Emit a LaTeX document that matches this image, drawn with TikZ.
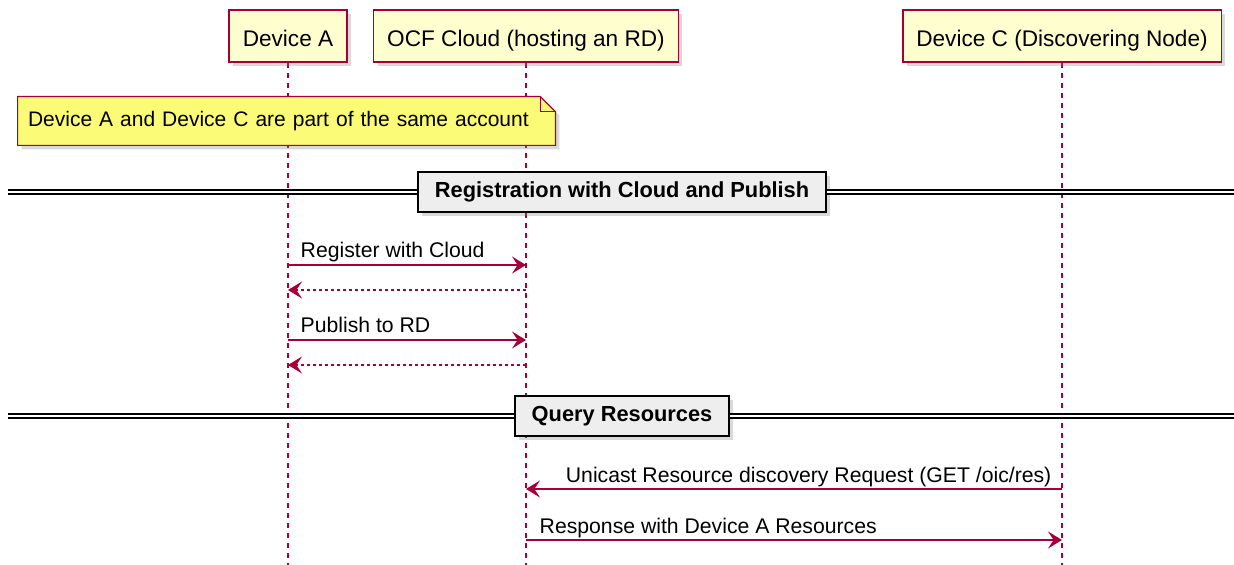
\documentclass[tikz,border=0pt]{standalone}
\usepackage{fontspec}
\setmainfont{Liberation Sans}
\usetikzlibrary{arrows.meta, positioning, shadows, backgrounds}

\definecolor{umlred}{HTML}{A80036}
\definecolor{partfill}{HTML}{FEFECE}
\definecolor{notefill}{HTML}{FBFB77}
\definecolor{sepfill}{HTML}{EEEEEE}

\begin{document}
\begin{tikzpicture}[x = 0.5pt, y = -0.5pt,
		participant/.style = {draw=umlred, line width=0.8pt, fill=partfill, minimum height=26pt, inner xsep=6.8pt,
			text height=1.3em, text depth=0.22em,
			font=\fontsize{11.3}{13}\selectfont, drop shadow={shadow xshift=2pt, shadow yshift=-2pt, opacity=0.3}},
		lifeline/.style = {umlred, line width=0.7pt, dash pattern=on 2.5pt off 2.5pt},
		notetext/.style = {minimum height=24pt, text width=258.5pt, inner xsep=5pt, align=left,
			font=\fontsize{10.5}{12}\selectfont},
		notebox/.style = {draw=umlred, line width=0.6pt, fill=notefill, line join=miter},
		divider/.style = {draw=black, line width=1pt, fill=sepfill, minimum height=20pt, inner xsep=8.5pt,
			font=\bfseries\fontsize{10.9}{12}\selectfont, drop shadow={shadow xshift=2pt, shadow yshift=-2pt, opacity=0.3}},
		sepline/.style = {draw=black, double=white, double distance=1.4pt, line width=0.6pt},
		msg/.style = {umlred, line width=0.7pt, -{Stealth[length=7pt, width=8.5pt, inset=2.8pt]}},
		reply/.style = {msg, dash pattern=on 1.5pt off 1.5pt},
		msglabel/.style = {text=black, inner sep=0pt, font=\fontsize{10.6}{12}\selectfont}]

	\useasboundingbox (0,0) rectangle (1234,565);

	% participants
	\node[participant] (devA) at (288,36) {Device A};
	\node[participant] (cloud) at (526,36) {OCF Cloud (hosting an RD)};
	\node[participant] (devC) at (1062,36) {Device C (Discovering Node)};

	\node[notetext] (note) at (286.5,121) {Device A and Device C are part of the same account};

	\begin{pgfonlayer}{background}
		\foreach \p in {devA, cloud, devC}
			\draw[lifeline] (\p.south) -- (\p.south |- 0,565);
		% note with folded corner
		\draw[notebox, drop shadow={shadow xshift=2pt, shadow yshift=-2pt, opacity=0.3}]
			(note.north west) -- ([xshift=-7.5pt]note.north east) -- ([yshift=-7.5pt]note.north east)
			-- (note.south east) -- (note.south west) -- cycle;
		\draw[notebox, fill=none] ([xshift=-7.5pt]note.north east) |- ([yshift=-7.5pt]note.north east);
	\end{pgfonlayer}

	% separators
	\node[divider] (regsep) at (622,192) {Registration with Cloud and Publish};
	\node[divider] (querysep) at (622,416) {Query Resources};
	\coordinate (regL) at (8,192);
	\coordinate (regR) at (1234,192);
	\coordinate (queryL) at (8,416);
	\coordinate (queryR) at (1234,416);
	\draw[sepline] (regL) -- (regsep.west);
	\draw[sepline] (regsep.east) -- (regR);
	\draw[sepline] (queryL) -- (querysep.west);
	\draw[sepline] (querysep.east) -- (queryR);

	% messages
	\draw[msg] (devA |- 0,265) -- node[msglabel, pos=0, anchor=base west, shift={(6pt,3.5pt)}] {Register with Cloud} (cloud |- 0,265);
	\draw[reply] (cloud |- 0,290) -- (devA |- 0,290);
	\draw[msg] (devA |- 0,340) -- node[msglabel, pos=0, anchor=base west, shift={(6pt,3.5pt)}] {Publish to RD} (cloud |- 0,340);
	\draw[reply] (cloud |- 0,365) -- (devA |- 0,365);
	\draw[msg] (devC |- 0,489) -- node[msglabel, pos=0, anchor=base east, shift={(-5pt,3.5pt)}] {Unicast Resource discovery Request (GET /oic/res)} (cloud |- 0,489);
	\draw[msg] (cloud |- 0,540) -- node[msglabel, pos=0, anchor=base west, shift={(6.5pt,3.5pt)}] {Response with Device A Resources} (devC |- 0,540);
\end{tikzpicture}
\end{document}
